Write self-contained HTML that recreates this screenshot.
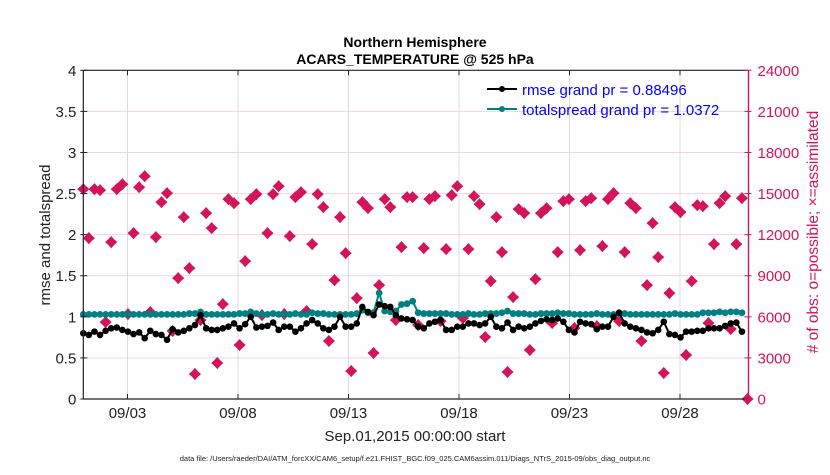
<!DOCTYPE html>
<html><head><meta charset="utf-8"><style>
body{margin:0;background:#fff;width:830px;height:470px;overflow:hidden}
svg{font-family:"Liberation Sans",sans-serif}
</style></head><body>
<svg id="chart" width="830" height="470">
<g id="grid"></g><g id="series"></g><g id="axes"></g>
<text x="415" y="47" text-anchor="middle" font-size="14" font-weight="bold">Northern Hemisphere</text>
<text x="415" y="64" text-anchor="middle" font-size="14" font-weight="bold">ACARS_TEMPERATURE @ 525 hPa</text>
<text transform="translate(50,235) rotate(-90)" text-anchor="middle" font-size="15" fill="#222">rmse and totalspread</text>
<text transform="translate(818,232) rotate(-90)" text-anchor="middle" font-size="15.5" fill="#d4145a"># of obs: o=possible; ×=assimilated</text>
<text x="415" y="441" text-anchor="middle" font-size="15" fill="#222">Sep.01,2015 00:00:00 start</text>
<text x="415" y="461" text-anchor="middle" font-size="7.5" fill="#222">data file: /Users/raeder/DAI/ATM_forcXX/CAM6_setup/f.e21.FHIST_BGC.f09_025.CAM6assim.011/Diags_NTrS_2015-09/obs_diag_output.nc</text>
<g>
<line x1="487" y1="89" x2="517" y2="89" stroke="#000" stroke-width="2"/><circle cx="502" cy="89" r="3" fill="#000"/>
<text x="522" y="95" font-size="15" fill="#0000ff">rmse grand pr = 0.88496</text>
<line x1="487" y1="109" x2="517" y2="109" stroke="#008080" stroke-width="2"/><circle cx="502" cy="109" r="3" fill="#008080"/>
<text x="522" y="115" font-size="15" fill="#0000ff">totalspread grand pr = 1.0372</text>
</g>
</svg>
<script>
const yTicks=[0,0.5,1,1.5,2,2.5,3,3.5,4];
const yTickLabels=["0","0.5","1","1.5","2","2.5","3","3.5","4"];
const y2Ticks=[0,3000,6000,9000,12000,15000,18000,21000,24000];
const xTickDays=[3,8,13,18,23,28];
const xTickLabels=["09/03","09/08","09/13","09/18","09/23","09/28"];
const rmse=[0.80,0.78,0.82,0.78,0.83,0.86,0.87,0.84,0.82,0.79,0.81,0.74,0.83,0.79,0.78,0.72,0.85,0.81,0.83,0.86,0.90,1.02,0.86,0.84,0.84,0.86,0.88,0.92,0.86,0.91,1.00,0.87,0.88,0.89,0.93,0.84,0.88,0.88,0.82,0.86,0.92,0.96,
0.92,0.86,0.84,0.88,1.00,0.88,0.88,0.92,1.12,1.06,1.02,1.15,1.13,1.12,1.02,0.98,0.97,0.96,0.88,0.86,0.92,0.94,0.96,0.84,0.84,0.88,0.88,0.92,0.92,0.90,0.92,1.00,0.88,0.86,0.93,0.84,0.88,0.86,0.88,
0.92,0.95,0.97,0.96,0.98,0.94,0.84,0.81,0.94,0.92,0.91,0.85,0.88,0.88,1.00,1.05,0.92,0.88,0.86,0.84,0.81,0.80,0.84,0.94,0.79,0.78,0.75,0.82,0.82,0.83,0.83,0.86,0.86,0.86,0.89,0.92,0.93,0.82];
const totalspread=[1.03,1.03,1.03,1.03,1.03,1.03,1.03,1.03,1.03,1.03,1.03,1.03,1.03,1.03,1.03,1.03,1.03,1.03,1.03,1.04,1.04,1.06,1.03,1.03,1.03,1.03,1.03,1.03,1.04,1.04,1.06,1.04,1.03,1.03,1.04,1.03,1.03,1.03,1.04,1.03,1.03,1.05,
1.04,1.04,1.03,1.03,1.03,1.03,1.03,1.04,1.08,1.05,1.05,1.29,1.07,1.06,1.07,1.15,1.16,1.19,1.05,
1.04,1.04,1.04,1.04,1.04,1.03,1.03,1.03,1.04,1.03,1.03,1.04,1.04,1.04,1.05,1.07,1.04,1.04,1.04,1.03,1.03,1.04,1.04,1.04,1.05,1.04,1.04,1.03,1.03,1.03,1.03,1.04,1.03,1.03,1.03,1.04,1.04,1.03,1.03,1.03,1.03,1.03,1.03,1.03,1.03,1.04,1.03,1.03,1.03,1.03,1.05,1.05,1.05,1.06,1.05,1.06,1.06,1.05];
const obsCount=[15320,11745,15320,15247,5617,11453,15320,15684,6201,12110,15465,16268,6347,11818,14371,15028,4961,8827,13277,9556,1824,5763,13569,12474,2626,6930,14590,14298,3939,10067,14590,14955,6128,12110,14955,15538,6201,11891,14736,15101,6420,11307,
14955,14006,4231,8681,13277,10651,2043,7368,14371,13934,3356,8316,14590,14006,5763,11088,14736,14736,5398,11015,14590,14809,5690,10943,14882,15538,5909,10943,14809,14225,4523,8608,13277,10724,1970,7441,13861,13569,3575,
8754,13569,13934,5544,10724,14444,14590,5179,10870,14444,14663,5325,11161,14590,15028,5690,10724,14298,13934,4231,8316,12839,10359,1897,7733,14006,13642,3210,8608,14152,14079,5544,11307,14298,14809,5107,11307,14663,0];
const L=83.3,R=748.5,T=70.3,B=399;
const NS="http://www.w3.org/2000/svg";
const xi=i=>L+i*(R-L-1)/(obsCount.length-1);
const xd=d=>127.5+(d-3)*22.1;
const y1=v=>B-(v/4)*(B-T);
const y2=v=>B-(v/24000)*(B-T);
function mk(tag,attrs,parent){const e=document.createElementNS(NS,tag);for(const k in attrs)e.setAttribute(k,attrs[k]);document.getElementById(parent).appendChild(e);return e;}
y2Ticks.forEach((t,i)=>{if(i>0&&i<8){const g=mk('line',{x1:L,x2:R,y1:y2(t),y2:y2(t),stroke:'#f2d5df','stroke-width':1},'grid');

}});
xTickDays.forEach(d=>{const g=mk('line',{x1:xd(d),x2:xd(d),y1:T,y2:B,stroke:'#dcdcdc','stroke-width':1},'grid');

});
obsCount.forEach((c,i)=>{const x=xi(i),y=y2(c);
const p=mk('path',{d:`M${x},${y-5.5}L${x+2.6},${y-2.6}L${x+5.5},${y}L${x+2.6},${y+2.6}L${x},${y+5.5}L${x-2.6},${y+2.6}L${x-5.5},${y}L${x-2.6},${y-2.6}Z`,fill:'#d4145a',stroke:'#d4145a','stroke-width':0.8},'series');

});
function line(arr,color,r,name){const pts=arr.map((v,i)=>xi(i)+','+y1(v)).join(' ');
const pl=mk('polyline',{points:pts,fill:'none',stroke:color,'stroke-width':2},'series');


arr.forEach((v,i)=>{const c=mk('circle',{cx:xi(i),cy:y1(v),r:r,fill:color},'series');

});}
line(totalspread,'#008080',3.4,'totalspread');
line(rmse,'#000',3.3,'rmse');
const ax=[['line',{x1:L,x2:L,y1:T,y2:B,stroke:'#222','stroke-width':1.2},'left-axis'],['line',{x1:L,x2:R,y1:B,y2:B,stroke:'#222','stroke-width':1.2},'bottom-axis'],['line',{x1:L,x2:R,y1:T,y2:T,stroke:'#222','stroke-width':1.2},'top-axis'],['line',{x1:R,x2:R,y1:T,y2:B,stroke:'#d4145a','stroke-width':1.4},'right-axis']];
ax.forEach(a=>{const e=mk(a[0],a[1],'axes');

});
yTicks.forEach((t,i)=>{const y=y1(t);mk('line',{x1:L-3,x2:L+4,y1:y,y2:y,stroke:'#222'},'axes');
const tx=mk('text',{x:L-7,y:y+5.5,'text-anchor':'end','font-size':15,fill:'#222'},'axes');tx.textContent=yTickLabels[i];

});
y2Ticks.forEach(t=>{const y=y2(t);mk('line',{x1:R-4,x2:R+3,y1:y,y2:y,stroke:'#d4145a'},'axes');
const tx=mk('text',{x:R+9,y:y+5.5,'font-size':15,fill:'#d4145a'},'axes');tx.textContent=String(t);

});
xTickDays.forEach((d,i)=>{const x=xd(d);mk('line',{x1:x,x2:x,y1:B-5,y2:B,stroke:'#222'},'axes');mk('line',{x1:x,x2:x,y1:T,y2:T+5,stroke:'#222'},'axes');
const tx=mk('text',{x:x,y:B+19,'text-anchor':'middle','font-size':15,fill:'#222'},'axes');tx.textContent=xTickLabels[i];

});
</script>
</body></html>
